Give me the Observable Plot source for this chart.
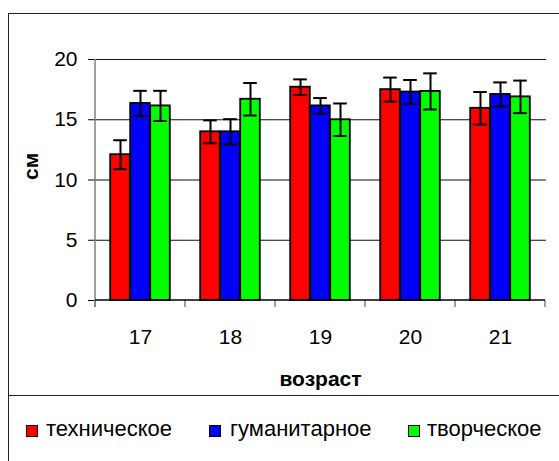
<!DOCTYPE html>
<html><head><meta charset="utf-8">
<script src="https://cdn.jsdelivr.net/npm/d3@7"></script>
<script src="https://cdn.jsdelivr.net/npm/@observablehq/plot@0.6"></script>
<style>
body{margin:0;background:#fff;}
#wrap{position:relative;width:559px;height:461px;overflow:hidden;font-family:"Liberation Sans",Arial,sans-serif;background:#fff;}
#chart svg{display:block}
#box{position:absolute;left:8px;top:13px;width:600px;height:600px;border:1.5px solid #222;box-sizing:border-box;pointer-events:none}
#divider{position:absolute;left:8px;top:395px;width:600px;border-top:1.5px solid #222}
#legend{position:absolute;top:396px;left:0;width:559px;height:65px;}
.sw{position:absolute;top:29px;width:12px;height:12px;border:1.5px solid #000;box-sizing:border-box}
.lb{position:absolute;top:22px;font-size:22px;line-height:22px;color:#000;white-space:nowrap}
</style>
</head><body>
<div id="wrap">
  <div id="chart"></div>
  <div id="box"></div>
  <div id="divider"></div>
  <div id="legend"></div>
</div>
<script>
const ages = ["17", "18", "19", "20", "21"];
const series = ["техническое", "гуманитарное", "творческое"];
const colors = ["#ff0000", "#0000ff", "#00ff00"];
const techMean = [12.1, 14.0, 17.7, 17.5, 15.95];
const techErr  = [1.2, 0.95, 0.65, 1.0, 1.35];
const humMean  = [16.35, 14.0, 16.15, 17.3, 17.1];
const humErr   = [1.05, 1.05, 0.65, 1.0, 1.0];
const creMean  = [16.15, 16.7, 15.0, 17.35, 16.9];
const creErr   = [1.25, 1.35, 1.35, 1.5, 1.35];
const yTicks = [0, 5, 10, 15, 20];
const yLabel = "см";
const xLabel = "возраст";

const means = [techMean, humMean, creMean];
const errs = [techErr, humErr, creErr];
const rows = [];
series.forEach((s, i) => ages.forEach((a, j) => rows.push({
  age: a, series: s, value: means[i][j], lo: means[i][j] - errs[i][j], hi: means[i][j] + errs[i][j]
})));

const W = 559, H = 396, mL = 94, mR = 13, mT = 59, mB = 96;
const bw = (W - mL - mR) / ages.length;
const barW = 20, capW = 14;
const gp = (bw - series.length * barW) / 2;

const seriesMarks = series.flatMap((s, i) => {
  const d = rows.filter(r => r.series === s);
  const il = gp + i * barW, ir = bw - il - barW;
  const c = il + barW / 2 - bw / 2;
  const cl = il + (barW - capW) / 2, cr = ir + (barW - capW) / 2;
  return [
    Plot.barY(d, {x: "age", y: "value", fill: "series", stroke: "#000", strokeWidth: 1.8, insetLeft: il, insetRight: ir}),
    Plot.ruleX(d, {x: "age", y1: "lo", y2: "hi", dx: c, stroke: "#000", strokeWidth: 2}),
    Plot.tickY(d, {x: "age", y: "hi", insetLeft: cl, insetRight: cr, stroke: "#000", strokeWidth: 2}),
    Plot.tickY(d, {x: "age", y: "lo", insetLeft: cl, insetRight: cr, stroke: "#000", strokeWidth: 2})
  ];
});

function axisFrame(index, scales) {
  const x = scales.x, y = scales.y;
  const b = x.bandwidth ? x.bandwidth() : bw;
  const y0 = y(0), yTop = y(d3.max(yTicks));
  const g = d3.create("svg:g");
  const x0 = x(ages[0]);
  g.append("line").attr("x1", x0).attr("x2", x0).attr("y1", yTop).attr("y2", y0 + 7)
    .attr("stroke", "#808080").attr("stroke-width", 1.5);
  const xs = ages.map(a => x(a)).concat([x(ages[ages.length - 1]) + b]);
  xs.forEach(px => g.append("line").attr("x1", px).attr("x2", px).attr("y1", y0).attr("y2", y0 + 7)
    .attr("stroke", "#808080").attr("stroke-width", 1.5));
  g.append("line").attr("x1", x0).attr("x2", xs[xs.length - 1]).attr("y1", y0).attr("y2", y0)
    .attr("stroke", "#000").attr("stroke-width", 1.5);
  return g.node();
}

const chart = Plot.plot({
  width: W, height: H,
  marginLeft: mL, marginRight: mR, marginTop: mT, marginBottom: mB,
  style: {fontFamily: "'Liberation Sans', Arial, sans-serif", fontSize: "21px", color: "#000", background: "transparent"},
  x: {domain: ages, paddingInner: 0, paddingOuter: 0, tickSize: 0, tickPadding: 29, label: null},
  y: {domain: [0, 20], ticks: yTicks, tickSize: 6, tickPadding: 11, label: null},
  color: {domain: series, range: colors},
  marks: [
    Plot.ruleY(yTicks.filter(t => t > 0), {stroke: "#111", strokeWidth: 1.2}),
    ...seriesMarks,
    axisFrame,
    Plot.text([yLabel], {text: d => d, frameAnchor: "left", dx: -63.7, rotate: -90, lineAnchor: "middle", fontSize: 21, fontWeight: "bold"}),
    Plot.text([xLabel], {text: d => d, frameAnchor: "bottom", dy: 79, lineAnchor: "middle", fontSize: 21, fontWeight: "bold"})
  ]
});
document.getElementById("chart").appendChild(chart);

const swX = [26, 209, 408], lbX = [46, 230, 427];
const leg = document.getElementById("legend");
series.forEach((s, i) => {
  const sw = document.createElement("div");
  sw.className = "sw"; sw.style.left = swX[i] + "px"; sw.style.background = colors[i];
  leg.appendChild(sw);
  const lb = document.createElement("div");
  lb.className = "lb"; lb.style.left = lbX[i] + "px"; lb.textContent = s;
  leg.appendChild(lb);
});
</script>
</body></html>
